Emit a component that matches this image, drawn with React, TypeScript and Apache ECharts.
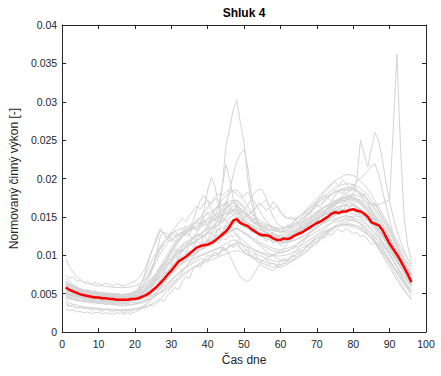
import React, { useEffect, useRef } from "react";
import * as echarts from "echarts";

// Values are in units of 1e-4 (normalised active power), one per quarter hour (1..96)
const meanProfile = [
  58,55,53,51,49,48,47,46,45,45,44,44,
  43,43,42,42,42,42,43,43,44,46,48,51,
  55,59,64,69,75,80,86,92,95,98,102,106,
  110,112,113,114,116,119,123,127,131,137,145,147,
  142,140,138,134,131,128,126,126,125,122,120,120,
  122,121,123,126,128,130,133,136,139,142,144,147,
  150,154,156,155,157,157,159,160,158,157,154,150,
  143,141,139,133,124,115,108,101,93,84,75,65,
];

const g1 = [
  66,63,60,57,55,53,52,50,49,48,48,47,
  47,46,46,45,45,46,46,47,48,50,53,57,
  62,68,75,82,88,94,99,103,107,110,113,116,
  119,122,126,130,134,138,150,190,242,264,290,302,
  272,247,199,168,150,140,134,130,127,124,121,119,
  121,123,125,128,131,134,137,140,144,147,150,153,
  156,159,161,163,164,165,165,164,162,160,157,153,
  149,145,140,134,127,120,112,104,96,88,80,72,
];
const g2 = [
  60,58,56,54,52,50,49,48,47,47,46,46,
  45,45,44,44,44,44,45,45,46,47,49,52,
  56,61,67,73,80,86,91,95,99,102,105,108,
  111,113,116,118,121,124,127,131,135,140,146,150,
  148,144,140,137,134,131,129,128,126,124,122,121,
  122,124,126,129,132,135,139,143,147,151,155,158,
  162,165,168,171,174,176,178,180,200,250,232,215,
  240,260,249,225,195,170,150,132,118,105,95,88,
];
const g3 = [
  55,53,51,49,48,47,46,45,45,44,44,43,
  43,42,42,42,42,42,43,44,45,46,48,50,
  53,57,62,68,74,80,86,91,96,100,104,107,
  110,113,115,117,119,122,125,129,133,138,142,144,
  141,138,135,132,129,127,125,124,123,121,120,120,
  121,123,125,128,131,134,137,141,145,149,153,156,
  160,163,166,168,170,172,173,174,173,172,170,168,
  166,165,166,168,170,172,265,362,240,148,112,92,
];
const g4 = [
  52,50,48,47,46,45,44,44,43,43,42,42,
  42,41,41,41,41,41,42,42,43,44,46,49,
  52,56,61,67,73,79,85,90,95,99,103,107,
  110,114,117,120,124,128,135,150,165,185,205,222,
  232,238,215,180,155,140,133,129,126,123,120,118,
  119,121,123,126,129,132,136,140,144,148,152,156,
  160,164,168,172,176,180,185,190,196,200,205,210,
  216,219,205,185,165,145,128,112,98,86,76,68,
];
const g5 = [
  70,66,62,59,56,54,53,52,51,50,50,49,
  49,48,48,48,48,49,50,52,55,60,68,78,
  88,98,108,115,120,118,122,126,130,128,132,135,
  138,142,160,185,201,190,165,150,145,148,152,155,
  150,146,142,139,136,134,132,130,128,127,126,126,
  127,128,130,132,134,136,139,142,145,148,150,152,
  154,156,158,159,160,160,159,158,156,153,150,146,
  142,138,133,127,121,114,106,98,90,82,74,66,
];
const g6 = [
  40,38,36,35,34,33,32,32,31,31,30,30,
  30,29,29,29,29,29,30,30,31,32,33,35,
  37,40,44,48,53,58,63,68,72,76,80,84,
  87,90,93,95,98,100,102,105,108,111,114,116,
  115,113,111,109,107,105,103,102,101,100,99,99,
  100,101,103,105,107,110,113,116,119,122,125,128,
  131,134,136,138,139,140,140,139,138,136,134,131,
  127,123,118,113,107,100,93,86,79,72,65,58,
];
const g7 = [
  95,85,78,72,68,65,63,62,61,60,60,59,
  59,58,58,58,58,58,59,60,62,65,70,76,
  84,93,102,110,116,121,125,128,130,132,133,134,
  135,137,139,141,144,147,150,155,160,165,170,172,
  168,163,158,154,150,147,144,141,139,137,135,134,
  135,137,139,141,144,147,151,155,159,163,167,171,
  175,179,182,185,187,188,188,187,185,182,178,173,
  167,161,154,146,138,129,120,111,103,96,90,85,
];
const g8 = [
  55,53,51,50,49,48,47,47,46,46,45,45,
  45,44,44,44,44,44,44,45,45,46,46,47,
  48,49,51,53,56,60,65,71,78,85,92,98,
  103,107,110,113,116,118,121,124,127,130,133,134,
  132,129,126,122,118,114,110,106,102,99,96,94,
  93,93,94,96,99,102,106,110,114,118,122,126,
  130,134,138,142,145,148,150,151,151,150,148,145,
  141,136,130,124,117,110,102,94,86,78,70,62,
];
const g9 = [
  48,46,44,42,41,40,39,38,38,37,37,36,
  36,36,35,35,35,35,36,36,37,38,40,42,
  45,48,52,57,62,67,72,77,81,85,89,93,
  96,99,101,103,105,107,109,111,108,100,90,80,
  72,68,66,70,78,86,92,96,99,101,102,103,
  104,106,108,110,112,114,117,120,123,126,129,131,
  133,135,137,138,139,139,138,137,135,133,130,127,
  123,119,114,108,101,94,86,78,70,62,55,48,
];
const g10 = [
  62,60,58,56,54,53,52,51,50,50,49,49,
  48,48,48,48,48,48,49,50,53,58,66,76,
  88,100,110,118,124,128,131,133,135,137,139,140,
  142,143,145,147,149,152,155,158,162,166,168,166,
  160,155,150,146,143,140,138,136,134,133,132,131,
  132,134,136,139,143,147,152,157,162,167,172,176,
  180,184,187,190,192,193,193,192,190,187,183,178,
  172,165,158,150,141,132,122,112,102,93,84,76,
];
const g11 = [
  58,56,54,52,51,50,49,48,48,47,47,46,
  46,46,45,45,45,46,47,48,50,53,57,62,
  68,75,82,90,98,106,112,118,124,129,134,140,
  146,150,155,162,170,176,180,178,182,185,183,180,
  175,178,182,176,168,160,152,145,140,136,133,131,
  130,130,131,133,136,139,143,147,151,155,159,162,
  165,168,170,172,173,174,174,173,171,168,164,159,
  153,147,140,132,124,115,106,97,88,80,72,65,
];
const g12 = [
  50,49,47,46,45,44,43,42,42,41,41,41,
  40,40,40,40,40,40,41,42,43,45,47,50,
  54,58,63,68,73,78,82,86,89,92,94,96,
  98,100,102,104,106,108,110,112,115,118,120,119,
  116,113,110,106,103,100,98,96,94,93,92,92,
  93,95,97,100,103,106,110,114,118,122,126,129,
  132,135,137,139,140,141,141,140,138,135,131,127,
  122,117,111,105,98,91,84,77,70,63,57,52,
];
const g13 = [
  57,55,54,52,51,50,49,48,47,47,46,46,
  45,45,45,44,44,44,45,46,47,49,52,55,
  60,65,71,78,85,91,97,102,106,110,114,117,
  120,123,126,129,133,137,141,145,150,155,158,160,
  158,155,152,156,162,168,165,158,162,170,165,155,
  150,148,147,148,150,153,156,160,164,168,171,174,
  177,180,182,184,185,186,186,185,183,180,176,171,
  165,158,150,142,133,124,115,106,97,89,82,76,
];
const g14 = [
  45,44,43,42,41,41,40,40,39,39,39,38,
  38,38,38,38,38,39,40,42,45,50,58,70,
  85,105,125,130,128,122,118,120,124,127,125,122,
  120,122,125,128,130,132,134,136,138,140,142,143,
  141,138,135,132,129,126,124,122,120,118,117,116,
  116,117,118,120,122,124,127,130,133,136,139,142,
  144,146,148,149,150,150,150,149,147,145,142,138,
  134,129,124,118,112,105,98,91,84,77,70,64,
];
const g15 = [
  35,34,33,32,32,31,31,30,30,30,29,29,
  29,29,28,28,28,29,29,30,31,33,36,40,
  45,51,57,63,69,75,80,85,90,94,98,101,
  104,107,110,112,115,118,121,124,127,130,133,135,
  133,130,127,124,121,118,115,113,111,109,108,107,
  108,109,111,113,116,119,122,125,128,131,134,137,
  140,142,144,145,146,147,147,146,144,141,137,132,
  126,119,112,104,96,88,80,72,64,56,48,42,
];
const g16 = [
  63,61,59,57,56,55,54,53,52,52,51,51,
  50,50,50,49,49,49,50,51,52,54,57,61,
  66,72,78,85,92,98,104,109,113,117,120,123,
  126,128,131,134,137,141,145,150,155,160,164,165,
  161,157,153,149,146,143,141,139,137,136,135,135,
  136,138,141,145,149,154,159,164,169,174,179,184,
  189,193,197,200,203,205,205,204,201,197,192,186,
  179,171,163,154,145,135,125,115,105,96,88,81,
];
const g17 = [
  53,51,50,48,47,46,45,45,44,44,43,43,
  43,42,42,42,42,42,43,44,46,49,53,58,
  64,71,79,88,97,106,114,121,127,132,137,141,
  145,148,151,154,157,160,163,166,168,170,172,171,
  166,160,154,148,142,137,133,129,126,123,121,119,
  118,118,119,120,122,124,127,130,133,136,140,143,
  146,149,152,155,157,159,160,160,159,157,154,150,
  145,140,134,127,120,112,104,96,88,80,72,65,
];
const g18 = [
  60,58,56,54,53,51,50,49,49,48,48,47,
  47,47,46,46,46,46,47,48,49,51,54,58,
  63,69,75,82,88,94,100,105,110,114,118,121,
  125,128,132,136,142,150,165,190,218,200,175,160,
  152,147,143,140,137,134,132,130,128,126,124,123,
  124,126,128,131,134,138,142,146,150,154,158,162,
  165,168,171,173,175,176,176,175,173,170,166,161,
  155,149,142,135,127,119,110,102,94,86,79,73,
];
const g19 = [
  56,54,52,51,50,49,48,47,47,46,46,45,
  45,45,44,44,44,44,45,46,48,51,55,60,
  66,73,80,88,96,104,111,118,124,129,135,145,
  160,172,178,170,160,152,148,150,155,158,160,158,
  155,158,165,175,182,186,185,175,162,150,142,138,
  136,136,137,139,141,144,147,150,153,156,159,162,
  164,166,168,170,171,172,172,171,169,166,162,157,
  151,145,138,131,123,115,107,99,91,83,76,70,
];
const g20 = [
  47,45,44,43,42,41,40,40,39,39,38,38,
  38,37,37,37,37,37,38,38,39,40,41,43,
  45,48,51,55,59,63,67,71,75,78,81,84,
  86,88,90,92,94,96,98,100,102,104,105,106,
  105,103,101,99,97,95,93,91,90,89,88,88,
  89,90,92,94,97,100,104,108,112,116,120,124,
  128,132,136,139,142,144,145,145,144,142,139,135,
  130,124,117,110,102,94,86,78,71,64,58,52,
];
const g21 = [
  65,62,60,58,56,55,54,53,52,51,51,50,
  50,49,49,49,49,49,50,51,53,56,60,65,
  71,78,86,94,102,110,116,121,126,130,133,136,
  138,140,142,144,146,148,150,152,154,156,157,156,
  153,150,147,144,141,139,137,135,133,132,131,130,
  131,132,134,136,139,142,145,149,153,157,160,163,
  166,169,171,173,175,176,176,175,173,170,167,163,
  158,152,146,139,131,123,114,105,97,89,82,75,
];
const g22 = [
  50,48,46,45,44,43,42,41,41,40,40,40,
  39,39,39,39,39,39,40,41,42,44,46,49,
  53,58,64,70,77,84,91,98,105,112,118,124,
  130,136,142,148,154,160,166,172,177,181,184,185,
  180,172,164,156,149,143,138,134,131,128,126,124,
  123,123,124,126,128,131,134,138,142,146,150,154,
  158,162,166,170,173,176,178,179,178,176,172,167,
  160,152,143,134,124,114,104,94,85,76,68,60,
];
const g23 = [
  52,48,50,46,47,44,45,43,46,44,42,45,
  43,41,44,42,40,43,41,44,46,45,50,55,
  62,70,66,78,92,88,100,96,108,104,115,110,
  120,114,126,118,130,124,135,128,140,145,138,150,
  142,136,140,130,134,124,128,118,122,115,120,112,
  118,125,120,130,126,136,132,142,138,148,145,152,
  148,158,154,162,156,165,160,158,162,150,154,145,
  140,142,130,124,118,108,100,94,84,78,70,62,
];
const g24 = [
  38,34,36,31,33,30,32,28,31,29,27,30,
  28,26,29,27,25,28,27,30,29,32,31,35,
  34,38,42,40,48,52,58,55,66,72,70,82,
  86,84,95,92,100,104,98,110,106,115,112,118,
  110,105,108,98,102,95,92,96,88,90,85,92,
  96,92,100,98,106,104,112,110,118,116,124,122,
  128,126,132,134,130,136,132,128,130,124,126,120,
  114,116,108,102,98,92,86,80,74,66,60,55,
];
const g25 = [
  75,70,72,66,68,64,66,62,65,63,61,64,
  62,60,63,61,60,62,64,66,70,76,85,98,
  110,120,132,128,122,130,125,118,128,134,126,138,
  132,140,146,138,150,144,156,150,160,166,158,164,
  156,150,154,144,148,138,142,136,140,132,136,130,
  134,140,136,146,142,150,156,152,160,166,162,170,
  175,170,178,184,180,186,182,188,184,178,180,172,
  166,168,158,150,146,136,128,120,110,102,95,88,
];
const g26 = [
  60,56,57,53,54,51,52,49,50,48,49,47,
  48,46,47,45,46,44,46,47,49,52,56,62,
  70,78,84,90,96,94,102,108,104,112,118,114,
  122,128,124,132,138,134,142,148,144,140,132,126,
  118,110,104,98,94,90,86,84,82,80,84,86,
  90,94,98,104,110,116,122,128,134,138,144,148,
  152,156,160,158,164,166,162,168,164,160,156,152,
  146,140,134,126,118,110,102,94,86,80,74,68,
];
const g27 = [
  50,47,48,45,46,44,45,42,44,43,41,43,
  42,40,42,41,40,42,44,48,55,66,80,96,
  110,125,135,128,120,126,132,124,130,138,132,140,
  146,140,150,156,148,160,166,158,170,164,172,168,
  160,154,150,146,140,144,136,132,128,130,124,126,
  120,124,128,126,132,136,134,140,146,144,150,156,
  154,160,164,162,168,166,170,166,162,158,154,148,
  144,138,132,124,116,108,100,92,84,78,72,66,
];
const g28 = [
  30,28,29,26,27,25,26,24,25,26,24,25,
  24,23,25,24,23,25,24,26,28,31,35,40,
  46,52,58,64,70,76,82,86,90,94,98,100,
  104,108,110,114,116,118,122,126,128,132,134,136,
  132,128,126,122,118,116,112,110,108,106,105,104,
  105,106,108,112,116,120,124,128,132,136,140,144,
  146,150,152,154,156,156,155,154,152,148,144,140,
  134,128,122,115,108,100,92,84,76,68,60,52,
];
const g29 = [
  56,53,54,50,51,48,49,47,48,46,47,45,
  46,44,45,43,44,45,46,48,50,53,56,60,
  64,68,72,76,80,84,88,92,95,98,101,104,
  106,110,108,114,112,118,116,122,120,126,124,128,
  122,118,114,110,106,104,102,100,98,100,102,106,
  110,116,122,128,136,142,150,156,162,170,176,182,
  186,192,196,190,198,194,188,192,184,178,172,166,
  158,150,142,134,126,118,110,102,94,86,80,74,
];
const g30 = [
  62,59,60,56,57,54,55,52,54,51,52,50,
  51,49,50,48,49,50,51,53,55,58,62,66,
  72,78,84,90,96,102,108,104,112,118,114,122,
  128,124,132,138,134,140,146,142,150,156,152,148,
  144,148,152,156,160,164,168,172,166,160,164,158,
  152,148,150,146,150,154,158,162,166,170,174,178,
  176,180,184,182,186,180,176,178,172,168,162,156,
  150,146,138,132,124,116,108,100,92,86,80,74,
];
const g31 = [
  44,42,43,40,41,39,40,38,39,37,38,36,
  37,35,36,35,34,36,35,37,38,40,42,45,
  48,52,56,60,64,68,72,76,80,84,86,90,
  92,96,94,100,98,104,102,108,106,112,110,114,
  108,104,100,98,96,92,90,88,86,84,86,84,
  86,88,92,96,100,106,110,116,120,126,130,134,
  138,142,146,148,150,152,150,148,144,140,134,128,
  122,116,108,100,92,84,76,68,60,54,48,44,
];
const g32 = [
  58,55,56,52,53,50,51,49,50,48,49,47,
  48,46,47,46,45,47,48,52,58,66,76,86,
  96,104,112,118,124,130,136,142,148,144,152,158,
  164,160,168,172,166,174,170,164,168,160,156,152,
  148,144,140,136,132,128,126,124,122,120,118,116,
  118,120,124,128,132,136,140,144,148,152,156,158,
  162,164,166,168,170,170,168,166,162,158,152,146,
  140,134,126,118,110,102,94,86,78,72,66,60,
];

const members = [
  g1,g2,g3,g4,g5,g6,g7,g8,g9,g10,g11,g12,g13,g14,g15,g16,
  g17,g18,g19,g20,g21,g22,g23,g24,g25,g26,g27,g28,g29,g30,g31,g32,
];

const xTicks = [0, 100, 10];
const yTicks = [0, 0.04, 0.005];

const UNIT = 1e-4;
const toData = (arr: number[]) => arr.map((v, i) => [i + 1, v * UNIT]);

const AXIS_COLOR = "#262626";
const FONT = "'Liberation Sans', Arial, Helvetica, sans-serif";

export default function App() {
  const ref = useRef<HTMLDivElement>(null);
  useEffect(() => {
    if (!ref.current) return;
    const chart = echarts.init(ref.current, undefined, { renderer: "svg" });
    const fmtY = (v: number) => String(+v.toFixed(3));
    const baseX = {
      type: "value" as const,
      min: xTicks[0],
      max: xTicks[1],
      interval: xTicks[2],
      splitLine: { show: false },
      axisLine: { show: true, onZero: false, lineStyle: { color: AXIS_COLOR, width: 1 } },
      axisTick: { show: true, inside: true, length: 4, lineStyle: { color: AXIS_COLOR } },
    };
    const baseY = {
      type: "value" as const,
      min: yTicks[0],
      max: yTicks[1],
      interval: yTicks[2],
      splitLine: { show: false },
      axisLine: { show: true, onZero: false, lineStyle: { color: AXIS_COLOR, width: 1 } },
      axisTick: { show: true, inside: true, length: 4, lineStyle: { color: AXIS_COLOR } },
    };
    const series: any[] = members.map((m, k) => ({
      type: "line",
      name: "member" + (k + 1),
      data: toData(m),
      showSymbol: false,
      symbol: "none",
      silent: true,
      z: 2,
      lineStyle: { color: "#d4d4d4", width: 1 },
    }));
    series.push({
      type: "line",
      name: "mean",
      data: toData(meanProfile),
      showSymbol: false,
      symbol: "none",
      z: 5,
      lineStyle: { color: "#ff0000", width: 2.5 },
    });
    chart.setOption({
      animation: false,
      textStyle: { fontFamily: FONT },
      grid: { left: 62, right: 15, top: 25, bottom: 44, containLabel: false },
      xAxis: [
        {
          ...baseX,
          position: "bottom",
          name: "Čas dne",
          nameLocation: "middle",
          nameGap: 21,
          nameTextStyle: { color: AXIS_COLOR, fontSize: 12, fontFamily: FONT },
          axisLabel: { color: AXIS_COLOR, fontSize: 10.5, margin: 6, fontFamily: FONT },
        },
        { ...baseX, position: "top", axisLabel: { show: false } },
      ],
      yAxis: [
        {
          ...baseY,
          position: "left",
          name: "Normovaný činný výkon [-]",
          nameLocation: "middle",
          nameGap: 36,
          nameTextStyle: { color: AXIS_COLOR, fontSize: 12, fontFamily: FONT },
          axisLabel: { color: AXIS_COLOR, fontSize: 10.5, margin: 5, fontFamily: FONT, formatter: fmtY },
        },
        { ...baseY, position: "right", axisLabel: { show: false } },
      ],
      graphic: [
        {
          type: "text",
          x: 244,
          y: 13,
          style: {
            text: "Shluk 4",
            fill: "#000000",
            font: `bold 12px ${FONT}`,
            textAlign: "center",
            textVerticalAlign: "middle",
          },
        },
      ],
      series,
    });
    return () => chart.dispose();
  }, []);
  return (
    <div
      ref={ref}
      style={{ position: "fixed", left: 0, top: 0, width: 441, height: 376, background: "#ffffff" }}
    />
  );
}
